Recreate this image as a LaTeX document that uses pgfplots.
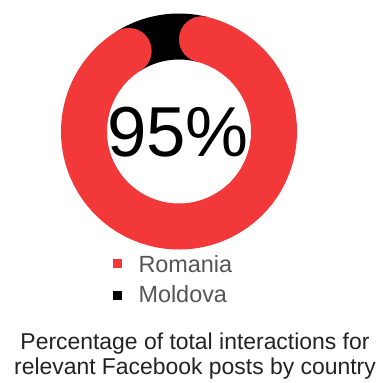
\documentclass[border=0pt]{standalone}
\usepackage{pgfplots}
\pgfplotsset{compat=1.18}
\usepackage{fontspec}
\setmainfont{Liberation Sans}
\definecolor{roRed}{RGB}{242,56,56}
\definecolor{legGray}{RGB}{85,85,85}
\definecolor{capGray}{RGB}{34,34,34}
\begin{document}
\begin{tikzpicture}
\begin{axis}[
  scale only axis, width=377bp, height=383bp,
  xmin=0, xmax=377, ymin=0, ymax=383,
  hide axis, clip=false,
]
% data: Romania 95, Moldova 5 (share of interactions)
\addplot[draw=none, forget plot] coordinates {(188,250)};
\pgfmathsetmacro{\cx}{179}
\pgfmathsetmacro{\cy}{251.5}
\pgfmathsetmacro{\ro}{118}
\pgfmathsetmacro{\ri}{72}
% Moldova segment (black)
\fill[black] (axis cs:{\cx+\ro*cos(76)},{\cy+\ro*sin(76)}) arc[start angle=76,end angle=122,radius=118bp]
  -- (axis cs:{\cx+\ri*cos(122)},{\cy+\ri*sin(122)}) arc[start angle=122,end angle=76,radius=72bp] -- cycle;
% Romania segment (red, rounded ends)
\draw[roRed, line width=46bp, line cap=round] (axis cs:{\cx+95*cos(122)},{\cy+95*sin(122)}) arc[start angle=122,end angle=436,radius=95bp];
\node[font=\fontsize{71}{71}\selectfont, text=black] at (axis cs:178,250.5) {95\%};
% legend
\fill[roRed] (axis cs:113,115) rectangle (axis cs:122,124);
\node[anchor=base west, font=\fontsize{23.5}{23.5}\selectfont, text=legGray] at (axis cs:135,110) {Romania};
\fill[black] (axis cs:113,83) rectangle (axis cs:122,92);
\node[anchor=base west, font=\fontsize{23.5}{23.5}\selectfont, text=legGray] at (axis cs:135,80) {Moldova};
% caption
\node[anchor=base, font=\fontsize{23}{24}\selectfont, text=capGray] at (axis cs:195,33) {Percentage of total interactions for};
\node[anchor=base, font=\fontsize{23}{24}\selectfont, text=capGray] at (axis cs:195,9) {relevant Facebook posts by country};
\end{axis}
\path (0,0) rectangle (377bp,383bp);
\end{tikzpicture}
\end{document}
